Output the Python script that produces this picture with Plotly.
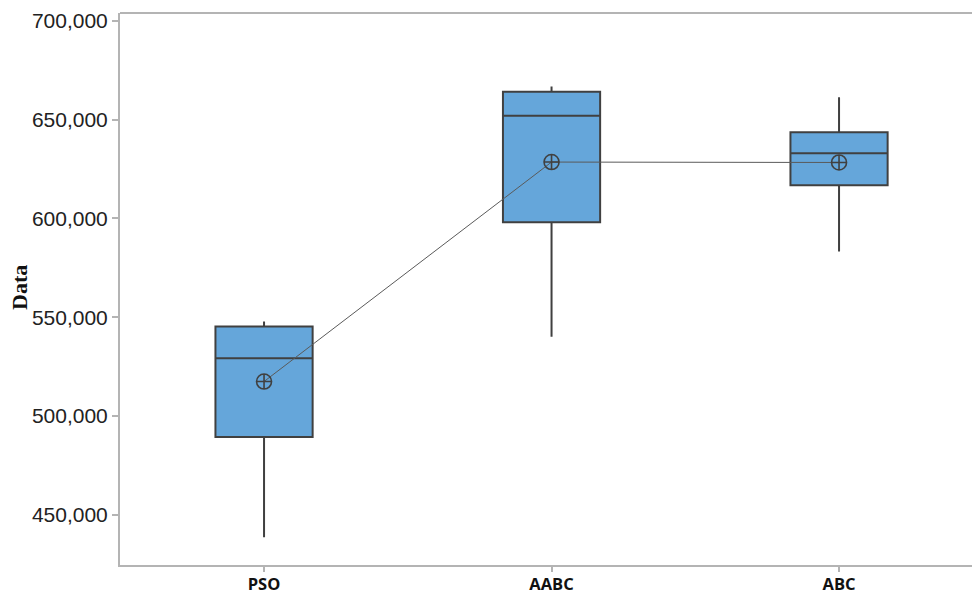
import plotly.graph_objects as go

categories = ["PSO", "AABC", "ABC"]
q1 = [489400, 598100, 616800]
median = [529300, 651900, 633000]
q3 = [545300, 664100, 643600]
lower_whisker = [438700, 540200, 583300]
upper_whisker = [547800, 666700, 661300]
means = [517500, 628500, 628300]
y_ticks = [450000, 500000, 550000, 600000, 650000, 700000]

xpos = list(range(len(categories)))

fig = go.Figure()
fig.add_trace(go.Box(
    x=xpos, q1=q1, median=median, q3=q3,
    lowerfence=lower_whisker, upperfence=upper_whisker,
    fillcolor="#65A6DA", line=dict(color="#404040", width=2),
    width=0.338, whiskerwidth=0, boxpoints=False, showlegend=False,
    hoverinfo="skip",
))
fig.add_trace(go.Scatter(
    x=xpos, y=means, mode="lines+markers",
    line=dict(color="#5a5a5a", width=1),
    marker=dict(symbol="circle-cross-open", size=15, color="#404040",
                line=dict(width=1.6, color="#404040")),
    showlegend=False,
))

# figure is slightly wider than the 972px window so the right frame edge is cut off
fig_w = 992
plot_w = fig_w - 120

fig.add_annotation(
    text="<b>Data</b>", textangle=-90, xref="paper", yref="paper",
    x=(19 - 120) / plot_w, y=(594 - 29 - 288) / 552,
    xanchor="center", yanchor="middle", showarrow=False,
    font=dict(family="Liberation Serif", size=22, color="#111"),
)
# top frame line
fig.add_shape(type="line", xref="paper", yref="paper", x0=0, x1=1, y0=1, y1=1,
              line=dict(color="#b4b4b4", width=2))

fig.update_layout(
    width=fig_w, height=594,
    margin=dict(l=120, r=0, t=13, b=29),
    paper_bgcolor="white", plot_bgcolor="white",
    xaxis=dict(
        range=[-0.501, -0.501 + plot_w / 287.5], tickvals=xpos, ticktext=categories,
        showline=True, mirror=False, linecolor="#b4b4b4", linewidth=2,
        showgrid=False, zeroline=False, automargin=False,
        ticks="outside", ticklen=5, tickcolor="#b4b4b4", tickwidth=2,
        ticklabelstandoff=-2,
        tickfont=dict(family="Open Sans", size=16.5, color="#111", weight="bold"),
    ),
    yaxis=dict(
        range=[424700, 703900], tickvals=y_ticks, tickformat=",",
        showline=True, mirror=False, linecolor="#b4b4b4", linewidth=2,
        showgrid=False, zeroline=False, automargin=False,
        ticks="outside", ticklen=6, tickcolor="#b4b4b4", tickwidth=2,
        tickfont=dict(family="Liberation Sans", size=21, color="#222"),
    ),
)

fig.write_html(
    "out.html",
    config={"displayModeBar": False},
    post_script=("document.body.style.margin='0';document.body.style.overflow='hidden';"
                 "document.documentElement.style.overflow='hidden';"),
)
